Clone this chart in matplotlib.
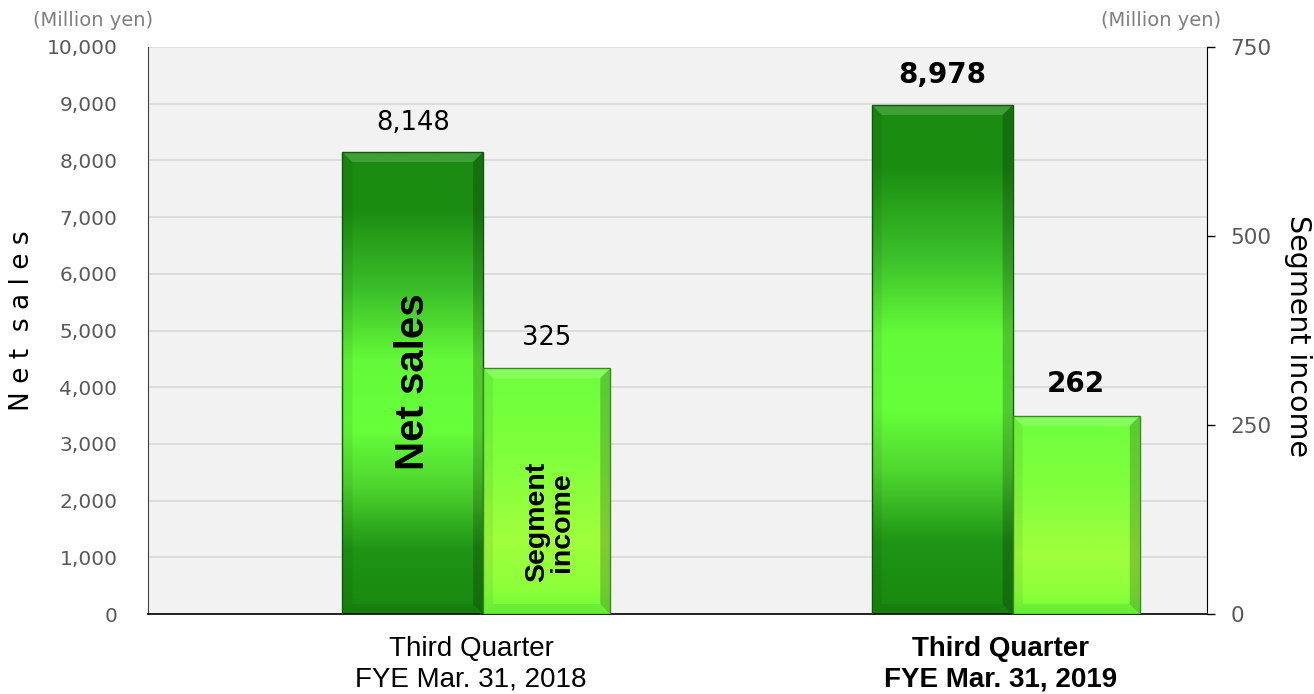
import matplotlib
matplotlib.use('Agg')
import matplotlib.pyplot as plt
import numpy as np
from matplotlib.colors import LinearSegmentedColormap
from matplotlib.patches import Polygon
from matplotlib.ticker import StrMethodFormatter

plt.rcParams['font.family'] = ['DejaVu Sans']

# Data
periods = ["Third Quarter\nFYE Mar. 31, 2018", "Third Quarter\nFYE Mar. 31, 2019"]
net_sales = [8148, 8978]
segment_income = [325, 262]
net_sales_labels = ["8,148", "8,978"]
segment_labels = ["325", "262"]
label_bold = [False, True]

W, H = 1314, 694
fig = plt.figure(figsize=(W / 100, H / 100), dpi=100)
ax = fig.add_axes([148 / W, 1 - 614 / H, (1207 - 148) / W, (614 - 47) / H])
ax2 = ax.twinx()

ax.set_xlim(-0.5, 1.5)
ax.set_ylim(0, 10000)
ax2.set_ylim(0, 750)
ax.set_facecolor('#f2f2f2')

dark_cmap = LinearSegmentedColormap.from_list('dark', [
    (0.0, '#1c8c13'), (0.12, '#1b8c12'), (0.3, '#3cc02a'), (0.45, '#64fa39'),
    (0.6, '#66ff3a'), (0.72, '#4fd72f'), (0.86, '#1f9516'), (1.0, '#18880f')])
light_cmap = LinearSegmentedColormap.from_list('light', [
    (0.0, '#6dff3e'), (0.35, '#80ff3c'), (0.7, '#a0ff3c'), (0.9, '#8cff3a'),
    (1.0, '#6cff38')])


def fancy_bars(a, bars, cmap):
    # gradient fill + soft bevel edges, clipped to each bar
    x_per_px = 2.0 / 1059
    y0, y1 = a.get_ylim()
    y_per_px = (y1 - y0) / 567
    grad = np.linspace(0, 1, 256).reshape(-1, 1)
    for b in bars:
        x0, w, h = b.get_x(), b.get_width(), b.get_height()
        x1 = x0 + w
        im = a.imshow(grad, extent=(x0, x1, 0, h), cmap=cmap, aspect='auto',
                      origin='upper', zorder=2, interpolation='bilinear')
        im.set_clip_path(b)
        bx, by = 10 * x_per_px, 10 * y_per_px
        bevels = [
            ([(x0, h), (x1, h), (x1 - bx, h - by), (x0 + bx, h - by)], 'white', 0.16),
            ([(x1, h), (x1, 0), (x1 - bx, by), (x1 - bx, h - by)], 'black', 0.2),
            ([(x0, 0), (x1, 0), (x1 - bx, by), (x0 + bx, by)], 'black', 0.07),
            ([(x0, 0), (x0, h), (x0 + bx, h - by), (x0 + bx, by)], 'black', 0.06),
        ]
        for pts, c, al in bevels:
            a.add_patch(Polygon(pts, closed=True, facecolor=c, alpha=al,
                                edgecolor='none', zorder=3))
        b.set_zorder(4)
    a.set_xlim(-0.5, 1.5)


x = np.arange(len(periods))
ns_w = 0.266
si_w = 0.24
bars1 = ax.bar(x, net_sales, ns_w, facecolor='none', edgecolor='#0d5a08', linewidth=1.0)
bars2 = ax2.bar(x + ns_w / 2, segment_income, si_w, align='edge', facecolor='none',
                edgecolor='#3a8a20', linewidth=1.0)
fancy_bars(ax, bars1, dark_cmap)
fancy_bars(ax2, bars2, light_cmap)
ax.set_ylim(0, 10000)
ax2.set_ylim(0, 750)

# value labels
for b, lab, bold in zip(bars1, net_sales_labels, label_bold):
    ax.annotate(lab, (b.get_x() + b.get_width() / 2, b.get_height()), xytext=(0, 16),
                textcoords='offset points', ha='center', va='baseline',
                fontsize=20 if bold else 18.5, fontweight='bold' if bold else 'normal',
                color='black', zorder=6)
for b, lab, bold in zip(bars2, segment_labels, label_bold):
    ax2.annotate(lab, (b.get_x() + b.get_width() / 2, b.get_height()), xytext=(0, 17),
                 textcoords='offset points', ha='center', va='baseline',
                 fontsize=20 if bold else 18.5, fontweight='bold' if bold else 'normal',
                 color='black', zorder=6)

# series names inside the first pair of bars
ax.text(x[0], 4100, "Net sales", rotation=90, ha='center', va='center',
        fontsize=29, fontweight='bold', family=['Liberation Sans', 'DejaVu Sans'], zorder=6)
ax2.text(x[0] + ns_w / 2 + si_w / 2 + 0.005, 122, "Segment\nincome", rotation=90,
         ha='center', va='center', multialignment='center', linespacing=0.95,
         fontsize=20.5, fontweight='bold', family=['Liberation Sans', 'DejaVu Sans'], zorder=6)

# grid and spines
ax.set_axisbelow(True)
ax.yaxis.grid(True, color='#d9d9d9', linewidth=1.2)
ax.xaxis.grid(False)
for s in ['top', 'right']:
    ax.spines[s].set_visible(False)
ax.spines['left'].set_color('#404040')
ax.spines['bottom'].set_color('black')
ax.spines['bottom'].set_linewidth(1.2)
for s in ['top', 'left', 'bottom']:
    ax2.spines[s].set_visible(False)
ax2.spines['right'].set_color('black')

# ticks
ax.set_yticks(np.arange(0, 10001, 1000))
ax.yaxis.set_major_formatter(StrMethodFormatter('{x:,.0f}'))
ax.tick_params(axis='y', length=0, pad=22, labelsize=14.5, labelcolor='#595959')
ax2.set_yticks([0, 250, 500, 750])
ax2.tick_params(axis='y', length=6, width=1, direction='out', pad=11,
                labelsize=15.5, labelcolor='#595959')

ax.set_xticks(x + 0.11)
ax.set_xticklabels(periods, fontsize=20, family=['Liberation Sans', 'DejaVu Sans'],
                   linespacing=1.2)
ax.tick_params(axis='x', length=0, pad=16)
for t, bold in zip(ax.get_xticklabels(), label_bold):
    if bold:
        t.set_fontweight('bold')

# axis titles and units
fig.text(22 / W, 1 - 321 / H, "N e t  s a l e s", rotation=90, ha='center', va='center',
         fontsize=19, color='black')
fig.text(1298 / W, 1 - 336 / H, "Segment income", rotation=270, ha='center', va='center',
         fontsize=20.5, color='black')
fig.text(93 / W, 1 - 20 / H, "(Million yen)", ha='center', va='center',
         fontsize=14, color='#7f7f7f')
fig.text(1161 / W, 1 - 21 / H, "(Million yen)", ha='center', va='center',
         fontsize=14, color='#7f7f7f')

fig.savefig('out.png', dpi=100, facecolor='white')
